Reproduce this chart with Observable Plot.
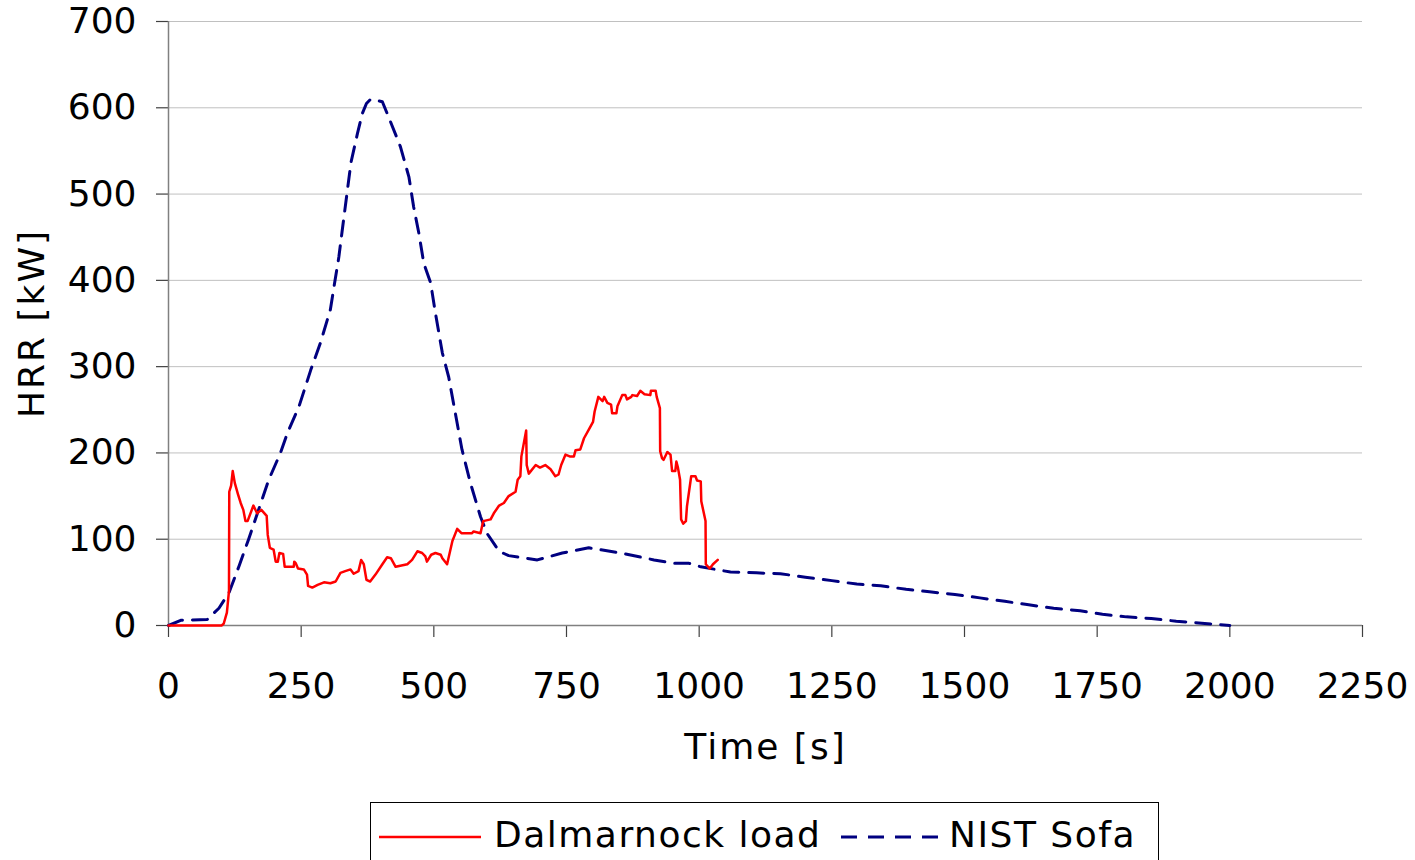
<!DOCTYPE html>
<html>
<head>
<meta charset="utf-8">
<script src="https://cdn.jsdelivr.net/npm/d3@7"></script>
<script src="https://cdn.jsdelivr.net/npm/@observablehq/plot@0.6"></script>
<style>
  html, body { margin: 0; padding: 0; background: #fff; overflow: hidden; }
  body { position: relative; width: 1415px; height: 860px; font-family: "DejaVu Sans", Verdana, sans-serif; }
  #legend { position: absolute; left: 370px; top: 802px; width: 789px; height: 80px; border: 1px solid #000; box-sizing: border-box; background: #fff; }
  #legend .lbl { position: absolute; top: 10px; font-size: 36px; line-height: 44px; color: #000; white-space: nowrap; letter-spacing: 1.5px; }
  #legend svg { position: absolute; left: 0; top: 0; }
</style>
</head>
<body>
<div id="chart"></div>
<div id="legend"></div>
<script>
// Dalmarnock load: [time s, HRR kW]
const dalmarnock = [
  [0,0],[60,0],[100,0],[104,2],[110,15],[114,40],[114.5,155],[118,162],[121,179],[125,165],
  [131,152],[136,142],[141,134],[145,121],[149,121],[160,139],[167,130],[175,134],[185,127],[187,105],
  [191,90],[198,88],[202,74],[206,74],[209,84],[216,83],[219,68],[236,68],[237,74],[240,72],
  [244,66],[255,65],[261,59],[263,46],[271,44],[281,47],[293,50],[305,49],[315,51],[324,61],
  [333,63],[343,65],[349,60],[358,63],[363,76],[368,71],[373,53],[380,51],[390,59],[403,71],
  [412,79],[419,78],[428,68],[450,71],[459,76],[469,86],[478,84],[484,80],[487,74],[495,82],
  [503,84],[513,82],[516,78],[525,71],[535,98],[544,112],[552,107],[572,107],[575,109],[588,107],
  [593,121],[607,123],[613,130],[623,139],[632,142],[641,150],[654,155],[658,169],[663,173],[665,196],
  [674,226],[675,186],[679,176],[692,186],[700,183],[710,186],[720,181],[729,173],[735,175],[740,186],
  [748,198],[756,196],[764,196],[767,203],[776,204],[783,217],[792,227],[800,236],[803,248],[810,265],
  [818,260],[821,265],[827,258],[834,256],[836,246],[844,246],[846,254],[855,267],[861,267],[864,262],
  [872,265],[874,267],[883,266],[889,272],[897,268],[908,267],[909,272],[918,272],[920,265],[926,252],
  [926.5,202],[930,194],[933,192],[940,201],[946,198],[949,179],[955,179],[957,190],[960,183],[964,169],
  [966,123],[970,118],[975,121],[977,138],[985,173],[993,173],[996,168],[1003,167],[1004,144],[1012,121],
  [1012.5,71],[1020,66],[1026,71],[1035,76]
];
// NIST Sofa: [time s, HRR kW]
const nistSofa = [
  [0,0],[23,6],[73,7],[95,20],[114,38],[133,69],[151,100],[173,140],[189,169],[211,200],
  [224,223],[246,254],[268,296],[286,327],[305,366],[312,393],[321,427],[327,456],[337,504],[344,537],
  [356,570],[365,593],[373,605],[381,610],[403,607],[415,589],[437,555],[453,520],[462,485],[472,454],
  [481,420],[494,397],[503,362],[516,316],[528,288],[553,204],[569,165],[588,126],[600,107],[623,86],
  [641,81],[695,76],[742,84],[792,90],[852,84],[915,76],[952,72],[981,72],[1003,68],[1059,62],
  [1108,61],[1153,60],[1200,56],[1250,52],[1297,48],[1342,46],[1390,42],[1434,39],[1482,36],[1529,32],
  [1576,28],[1621,24],[1668,20],[1718,17],[1760,13],[1805,10],[1852,8],[1899,5],[2000,0]
];
const xTicks = [0,250,500,750,1000,1250,1500,1750,2000,2250];
const yTicks = [0,100,200,300,400,500,600,700];
const xLabel = "Time [s]";
const yLabel = "HRR [kW]";
const seriesNames = ["Dalmarnock load", "NIST Sofa"];
const seriesColors = ["#ff0000", "#000080"];

const chart = Plot.plot({
  width: 1415,
  height: 790,
  marginLeft: 168,
  marginRight: 53,
  marginTop: 21,
  marginBottom: 165,
  style: { fontFamily: "DejaVu Sans, Verdana, sans-serif", fontSize: "36px", color: "#000", background: "#fff" },
  x: { domain: [0, 2250] },
  y: { domain: [0, 700] },
  marks: [
    Plot.gridY(yTicks, { stroke: "#c0c0c0", strokeOpacity: 1, strokeWidth: 1 }),
    Plot.axisY(yTicks, { tickSize: 12, tickPadding: 20, fontSize: 36, label: null, tickFormat: d => String(d), stroke: "#404040", strokeWidth: 1.2, fill: "#000" }),
    Plot.axisX(xTicks, { tickSize: 12, tickPadding: 35, fontSize: 36, label: null, tickFormat: d => String(d), stroke: "#404040", strokeWidth: 1.2, fill: "#000" }),
    Plot.ruleX([0], { stroke: "#808080", strokeWidth: 1.5 }),
    Plot.ruleY([0], { stroke: "#808080", strokeWidth: 1.5 }),
    Plot.line(nistSofa, { x: d => d[0], y: d => d[1], stroke: seriesColors[1], strokeWidth: 3, strokeDasharray: "15,10", strokeLinejoin: "round" }),
    Plot.line(dalmarnock, { x: d => d[0], y: d => d[1], stroke: seriesColors[0], strokeWidth: 2.5, strokeLinejoin: "round" }),
    Plot.text([yLabel], { text: d => d, frameAnchor: "left", textAnchor: "middle", lineAnchor: "middle", dx: -136, rotate: -90, fontSize: 36, fill: "#000" }),
    Plot.text([xLabel], { text: d => d, frameAnchor: "bottom", textAnchor: "middle", lineAnchor: "middle", dy: 122, fontSize: 36, fill: "#000" })
  ]
});
document.getElementById("chart").appendChild(chart);
d3.select(chart).selectAll("text").filter(function () {
  const t = this.textContent;
  return t === xLabel || t === yLabel;
}).attr("letter-spacing", "2px");

// Legend
const legend = d3.select("#legend");
const sw = legend.append("svg").attr("width", 789).attr("height", 80);
sw.append("line").attr("x1", 8).attr("x2", 110).attr("y1", 34).attr("y2", 34)
  .attr("stroke", seriesColors[0]).attr("stroke-width", 2.5);
sw.append("line").attr("x1", 470).attr("x2", 570).attr("y1", 34).attr("y2", 34)
  .attr("stroke", seriesColors[1]).attr("stroke-width", 3).attr("stroke-dasharray", "16,11");
legend.append("div").attr("class", "lbl").style("left", "123px").text(seriesNames[0]);
legend.append("div").attr("class", "lbl").style("left", "578px").text(seriesNames[1]);
</script>
</body>
</html>
